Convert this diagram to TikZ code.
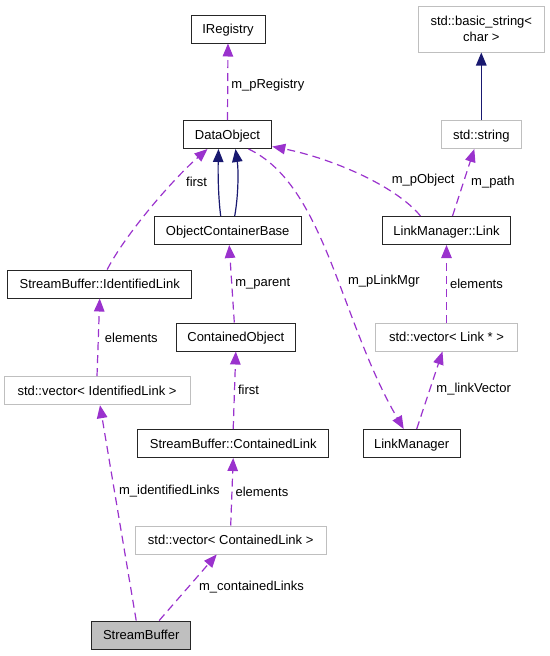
\documentclass[tikz,border=0pt]{standalone}
\usepackage{fontspec}
\setmainfont{Liberation Sans}
\usetikzlibrary{arrows.meta}
\definecolor{edge_purple}{HTML}{9A32CD}
\definecolor{edge_navy}{HTML}{191970}
\definecolor{box_grey}{HTML}{BFBFBF}

\begin{document}
\begin{tikzpicture}[x=1pt, y=-1pt, every node/.style={font=\fontsize{13}{16.5}\selectfont},
    cls/.style={draw=black!85, line width=1pt, minimum height=28pt, inner sep=0pt, text height=9.5pt, text depth=0.5pt},
    extcls/.style={cls, draw=box_grey},
    member/.style={-{Triangle[length=13pt,width=10.5pt]}, edge_purple, line width=1.2pt, dash pattern=on 8pt off 5pt},
    inherit/.style={-{Triangle[length=13pt,width=10.5pt]}, edge_navy, line width=1.2pt},
    lbl/.style={inner sep=3pt, text=black}]

    \useasboundingbox (0,0) rectangle (549,656);

    % classes, top to bottom
    \node[cls, minimum width=74pt] (ireg) at (228,29) {IRegistry};
    \node[extcls, minimum width=126pt, minimum height=46pt, align=center, text height={}, text depth={}] (bstr) at (481.3,29) {std::basic\_string<\\char >};
    \node[cls, minimum width=88.5pt] (dobj) at (227.5,134.5) {DataObject};
    \node[extcls, minimum width=80pt] (str) at (481.3,134.5) {std::string};
    \node[cls, minimum width=147pt] (ocb) at (227.7,230.5) {ObjectContainerBase};
    \node[cls, minimum width=128.5pt] (lmlink) at (446.5,230.5) {LinkManager::Link};
    \node[cls, minimum width=184.5pt] (idlink) at (99.7,284) {StreamBuffer::IdentifiedLink};
    \node[cls, minimum width=119pt] (cobj) at (235.8,337) {ContainedObject};
    \node[extcls, minimum width=141.5pt] (vlink) at (446.5,337) {std::vector< Link * >};
    \node[extcls, minimum width=186pt] (vidl) at (97,390.7) {std::vector< IdentifiedLink >};
    \node[cls, minimum width=191.5pt] (clink) at (233.2,443.5) {StreamBuffer::ContainedLink};
    \node[cls, minimum width=96.7pt] (lm) at (411.7,443.5) {LinkManager};
    \node[extcls, minimum width=191.3pt] (vcl) at (230.7,540) {std::vector< ContainedLink >};
    \node[cls, fill=box_grey, minimum width=99pt] (sb) at (141.2,635) {StreamBuffer};

    % inheritance
    \draw[inherit] (str.north) -- (bstr.south);
    \draw[inherit] ([xshift=-7pt]ocb.north) .. controls (218,195) and (218,170) .. ([xshift=-9pt]dobj.south);
    \draw[inherit] ([xshift=7pt]ocb.north) .. controls (238.5,195) and (238.5,170) .. ([xshift=8pt]dobj.south);

    % members
    \draw[member] (dobj.north) -- (ireg.south) node[lbl, pos=0.45, right] {m\_pRegistry};
    \draw[member] ([xshift=-26pt]lmlink.north) .. controls (395,185) and (330,158) .. ([yshift=2.5pt]dobj.south east)
      node[lbl, pos=0.3, above right] {m\_pObject};
    \draw[member] ([xshift=6pt]lmlink.north) -- ([xshift=-7pt]str.south) node[lbl, pos=0.51, right, xshift=4pt] {m\_path};
    \draw[member] ([xshift=7.5pt]idlink.north) .. controls (125,235) and (172,180) .. ([xshift=-20pt]dobj.south)
      node[lbl, pos=0.7, right, xshift=9pt] {first};
    \draw[member] ([xshift=21pt]dobj.south) .. controls (325,185) and (340,320) .. ([xshift=-8pt]lm.north)
      node[lbl, pos=0.56, right, xshift=6pt] {m\_pLinkMgr};
    \draw[member] ([xshift=-1.5pt]cobj.north) -- ([xshift=1.5pt]ocb.south) node[lbl, midway, right] {m\_parent};
    \draw[member] (vlink.north) -- (lmlink.south) node[lbl, midway, right] {elements};
    \draw[member] (vidl.north) -- (idlink.south) node[lbl, midway, right, xshift=3pt] {elements};
    \draw[member] (clink.north) -- (cobj.south) node[lbl, midway, right] {first};
    \draw[member] ([xshift=5pt]lm.north) -- ([xshift=-4pt]vlink.south) node[lbl, pos=0.51, right, xshift=3pt] {m\_linkVector};
    \draw[member] (vcl.north) -- (clink.south) node[lbl, midway, right] {elements};
    \draw[member] ([xshift=-5pt]sb.north) -- ([xshift=3pt]vidl.south) node[lbl, pos=0.6, right, xshift=1pt] {m\_identifiedLinks};
    \draw[member] ([xshift=18pt]sb.north) -- ([xshift=-14pt]vcl.south) node[lbl, pos=0.51, right, xshift=7pt] {m\_containedLinks};

\end{tikzpicture}
\end{document}
